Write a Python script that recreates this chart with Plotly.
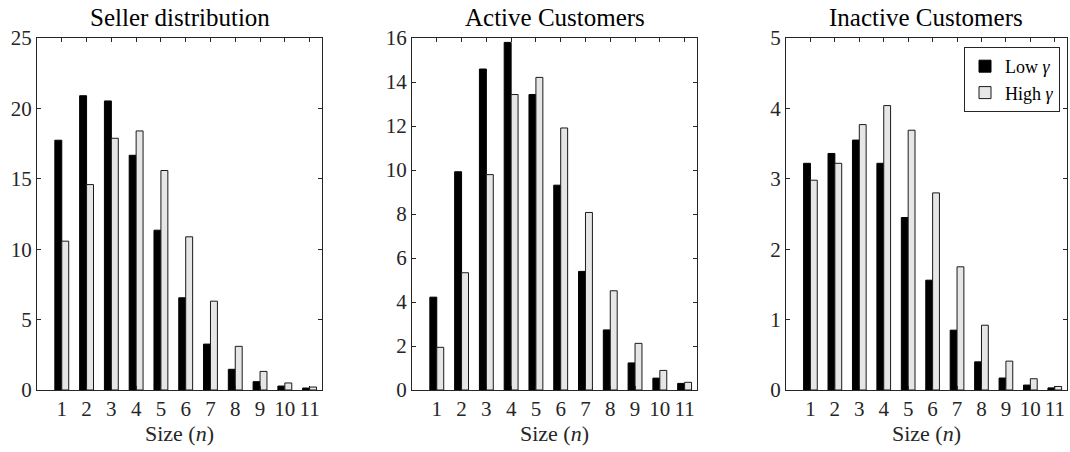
import plotly.graph_objects as go

sizes = list(range(1, 12))
tick_text = [str(s) for s in sizes]

seller_low = [17.74, 20.90, 20.53, 16.67, 11.35, 6.55, 3.26, 1.47, 0.59, 0.28, 0.14]
seller_high = [10.57, 14.59, 17.88, 18.40, 15.59, 10.88, 6.31, 3.10, 1.32, 0.50, 0.21]

active_low = [4.22, 9.92, 14.59, 15.80, 13.43, 9.31, 5.39, 2.73, 1.23, 0.54, 0.30]
active_high = [1.94, 5.33, 9.79, 13.43, 14.21, 11.91, 8.07, 4.51, 2.12, 0.89, 0.35]

inactive_low = [3.22, 3.36, 3.55, 3.22, 2.45, 1.56, 0.85, 0.40, 0.17, 0.07, 0.03]
inactive_high = [2.98, 3.22, 3.77, 4.04, 3.69, 2.80, 1.75, 0.92, 0.41, 0.16, 0.05]

titles = ["Seller distribution", "Active Customers", "Inactive Customers"]
y_ranges = [(0, 25), (0, 16), (0, 5)]
y_ticks = [list(range(0, 26, 5)), list(range(0, 17, 2)), list(range(0, 6, 1))]

series = [(seller_low, seller_high), (active_low, active_high), (inactive_low, inactive_high)]

W, H = 1070, 452
x_px = [(37, 322), (412, 697), (786, 1067)]
y_top, y_bot = 38, 390

FONT = "Liberation Serif"
TXT = "#262626"

fig = go.Figure()
for i, (lo, hi) in enumerate(series):
    ax = "" if i == 0 else str(i + 1)
    fig.add_trace(go.Bar(x=sizes, y=lo, name="Low <i>γ</i>", marker=dict(color="#000000", line=dict(color="#000000", width=1)),
                         xaxis="x" + ax, yaxis="y" + ax, showlegend=(i == 2), offsetgroup="a"))
    fig.add_trace(go.Bar(x=sizes, y=hi, name="High <i>γ</i>", marker=dict(color="#e6e6e6", line=dict(color="#1a1a1a", width=1)),
                         xaxis="x" + ax, yaxis="y" + ax, showlegend=(i == 2), offsetgroup="b"))

layout = dict(
    width=W, height=H,
    margin=dict(l=0, r=0, t=0, b=0),
    paper_bgcolor="white", plot_bgcolor="white",
    barmode="group", bargap=0.44, bargroupgap=0.0,
    font=dict(family=FONT, size=21, color=TXT),
    legend=dict(x=1060 / W, y=1 - 47 / H, xanchor="right", yanchor="top",
                bgcolor="white", bordercolor="#262626", borderwidth=1,
                font=dict(family=FONT, size=18, color="#000000"),
                tracegroupgap=0, itemwidth=30),
)
annotations = []
for i in range(3):
    ax = "" if i == 0 else str(i + 1)
    x0, x1 = x_px[i]
    layout["xaxis" + ax] = dict(
        domain=[x0 / W, x1 / W], anchor="y" + ax, range=[0, 11.5],
        tickmode="array", tickvals=sizes, ticktext=tick_text,
        ticks="inside", ticklen=4, tickcolor=TXT, showline=True, linecolor=TXT, linewidth=1,
        mirror="ticks", showgrid=False, zeroline=False, automargin=False,
        tickfont=dict(family=FONT, size=21, color=TXT),
        title=dict(text="Size (<i>n</i>)", font=dict(family=FONT, size=22, color=TXT), standoff=5),
    )
    layout["yaxis" + ax] = dict(
        domain=[1 - y_bot / H, 1 - y_top / H], anchor="x" + ax, range=list(y_ranges[i]),
        tickmode="array", tickvals=y_ticks[i],
        ticks="inside", ticklen=4, tickcolor=TXT, showline=True, linecolor=TXT, linewidth=1,
        mirror="ticks", showgrid=False, zeroline=False, automargin=False,
        tickfont=dict(family=FONT, size=21, color=TXT),
    )
    annotations.append(dict(text=titles[i], xref="paper", yref="paper",
                            x=(x0 + x1) / 2 / W, y=1 - 17.5 / H, xanchor="center", yanchor="middle",
                            showarrow=False, font=dict(family=FONT, size=25, color="#000000")))
layout["annotations"] = annotations
fig.update_layout(**layout)
fig.write_html("out.html")
